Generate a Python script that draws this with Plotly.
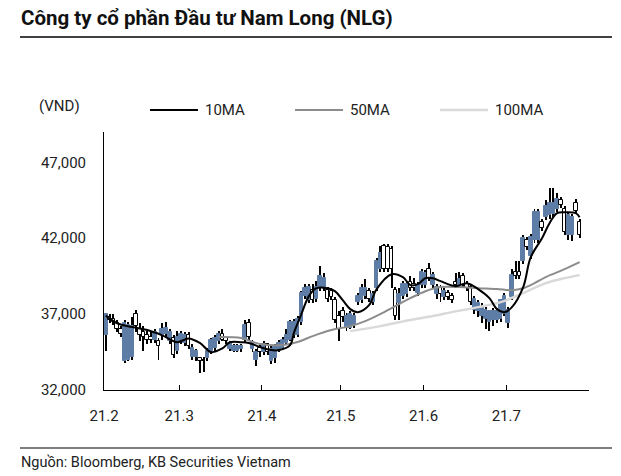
import plotly.graph_objects as go

# ---------------- data ----------------
month_labels = ["21.2", "21.3", "21.4", "21.5", "21.6", "21.7", ""]
month_start_idx = [-0.5, 19.5, 41.5, 62.5, 84.5, 106.5, 128.5]

opens = [35600, 36800, 36700, 36400, 36000, 33900, 34000, 34200, 37000, 36000,
         35800, 35600, 35500, 35300, 35200, 35600, 35700, 35200, 35400, 34600,
         35200, 35100, 35600, 34200, 34200, 34100, 34000, 34100, 34600, 34800,
         35200, 35700, 35400, 34700, 34600, 34600, 34700, 35300, 36400, 34700,
         34000, 34800, 34500, 35000, 33900, 34100, 34600, 34800, 35100, 35300,
         35600, 35600, 36500, 38200, 37900, 38600, 38000, 38700, 38700, 38600,
         38500, 37900, 36900, 37200, 36100, 36100, 36300, 37800, 37900, 38200,
         38500, 37800, 38700, 40000, 41500, 41400, 41300, 38600, 37700, 38200,
         38300, 39100, 39000, 38400, 38900, 38900, 40000, 38900, 38300, 38700,
         38100, 38400, 38200, 39100, 38900, 39500, 39000, 38800, 37300, 37200,
         36900, 36700, 36500, 36600, 36600, 36700, 37000, 36400, 38100, 39800,
         39800, 40500, 41900, 40800, 41900, 41900, 43100, 43400, 43500, 43600,
         43900, 44500, 43900, 42200, 42200, 44300, 43100]
highs = [37100, 37000, 37000, 36600, 36200, 36600, 36500, 36800, 37300, 36400,
         36200, 35900, 35800, 36000, 35400, 36400, 36500, 36000, 35600, 35900,
         35900, 35800, 35800, 35000, 34700, 34200, 34200, 34800, 35400, 35600,
         35900, 36000, 35500, 35200, 35000, 35000, 35000, 36600, 36700, 35300,
         34700, 35000, 35200, 35100, 34900, 35000, 35300, 35500, 36000, 36600,
         36700, 36900, 38500, 39000, 39000, 39000, 39200, 40200, 39700, 38800,
         38700, 38100, 37200, 37500, 37100, 37200, 37100, 38400, 39000, 39300,
         38700, 38500, 40700, 41500, 41600, 41600, 41500, 38800, 38700, 39200,
         39200, 39500, 39400, 39100, 40000, 39900, 40400, 39800, 39000, 38900,
         38700, 38600, 38400, 39700, 39800, 39700, 39200, 39000, 38200, 37900,
         37700, 37500, 37300, 37400, 37400, 38000, 38400, 37500, 40000, 40500,
         40500, 42200, 42100, 42300, 43900, 43900, 43300, 44500, 45300, 45300,
         45000, 44700, 44100, 43700, 43600, 44600, 43300]
lows = [34600, 36400, 36300, 35800, 35500, 33800, 33900, 34000, 35800, 35200,
        34600, 35000, 35100, 35100, 34000, 35300, 35400, 35000, 34100, 34400,
        35000, 34900, 34700, 34000, 33900, 33100, 33200, 33900, 34400, 34600,
        35000, 35200, 35000, 34600, 34500, 34500, 34500, 35100, 35300, 34500,
        33600, 34200, 34300, 34300, 33700, 33800, 34500, 34700, 35000, 35200,
        35400, 35500, 36300, 38000, 37700, 37700, 37800, 38500, 38500, 37800,
        37900, 36400, 35200, 36500, 35900, 36000, 36100, 37600, 37700, 38000,
        37800, 37600, 38500, 39800, 39800, 39800, 38700, 36600, 36600, 38000,
        38100, 38500, 38500, 38200, 38700, 38700, 39200, 38700, 38000, 37800,
        37900, 37900, 37700, 38700, 38700, 38700, 38500, 37600, 37000, 36800,
        36400, 36000, 35900, 36200, 36400, 36500, 36900, 36100, 37900, 39300,
        39300, 40300, 41200, 40600, 41700, 41700, 42500, 43200, 43300, 43400,
        43700, 44000, 42200, 41900, 41800, 43600, 42000]
closes = [37000, 36600, 36500, 36000, 35700, 36400, 36300, 36200, 36200, 35600,
          35500, 35300, 35300, 35800, 34900, 36000, 36100, 35800, 34300, 35500,
          35700, 35600, 34900, 34800, 34600, 33900, 33900, 34600, 35300, 35400,
          35700, 35300, 35200, 35100, 34900, 34900, 34900, 36300, 35500, 35100,
          34500, 34500, 35000, 34500, 34700, 34900, 35100, 35300, 35600, 36500,
          36500, 36700, 38400, 38700, 38800, 37900, 38800, 39500, 39400, 38000,
          38100, 36600, 36000, 36800, 36900, 37000, 36900, 38200, 38700, 38700,
          38000, 38300, 40500, 41000, 40000, 40000, 40000, 36900, 38300, 39000,
          39000, 38700, 38700, 38900, 39800, 39700, 39400, 39600, 38800, 38300,
          38500, 38100, 37900, 38900, 39300, 38900, 38700, 37800, 38000, 37700,
          37500, 37300, 37200, 37200, 37200, 37900, 38200, 37300, 39600, 39500,
          39500, 42000, 41400, 42100, 43700, 43700, 42700, 44100, 44300, 44300,
          44600, 44200, 42400, 43500, 43400, 43800, 42200]

ma10_idx = [0, 3, 7, 11, 15, 19, 22, 25, 28, 31, 33, 36, 38, 41, 44, 46, 49, 50,
            52, 54, 56, 59, 61, 63, 65, 67, 70, 72, 76, 79, 81, 83, 85, 87, 89,
            93, 96, 99, 102, 104, 106, 108, 111, 113, 116, 118, 120, 122, 125, 126]
ma10_val = [36900, 36400, 36150, 35950, 35600, 35150, 35400, 35100, 34500, 34750,
            35150, 35150, 35100, 34830, 34630, 34630, 34960, 35750, 37000, 38185,
            38710, 38710, 38500, 37920, 37330, 37130, 37590, 38650, 39630, 39435,
            38910, 38975, 39370, 39370, 39170, 38840, 39040, 38650, 38055, 37330,
            37130, 37460, 38780, 40750, 42000, 42990, 43650, 43710, 43650, 43380]

ma50_idx = [30, 36, 41, 47, 51, 55, 60, 65, 69, 73, 77, 81, 85, 89, 94, 99, 104,
            108, 111, 114, 117, 122, 126]
ma50_val = [35490, 35420, 35030, 34960, 35160, 35550, 35950, 36210, 36540, 37000,
            37530, 38050, 38510, 38780, 38780, 38710, 38650, 38580, 38710, 39040,
            39440, 39960, 40420]

ma100_idx = [65, 73, 81, 87, 92, 99, 105, 111, 117, 122, 126]
ma100_val = [35880, 36210, 36610, 36870, 37130, 37460, 37790, 38380, 39040, 39370,
             39570]

series_names = ["10MA", "50MA", "100MA"]
title_text = "Công ty cổ phần Đầu tư Nam Long (NLG)"
unit_text = "(VND)"
source_text = "Nguồn: Bloomberg, KB Securities Vietnam"

# ---------------- styling ----------------
BLUE = "#5D7DA6"
MA_COLORS = ["#000000", "#8C8C8C", "#D9D9D9"]
FONT = "Roboto"

x = list(range(len(opens)))
wick_h = [h - l for h, l in zip(highs, lows)]
body_base = [min(o, c) for o, c in zip(opens, closes)]
body_h = [max(abs(c - o), 60) for o, c in zip(opens, closes)]
up = [c >= o for o, c in zip(opens, closes)]
body_fill = [BLUE if u else "#FFFFFF" for u in up]
body_line = [BLUE if u else "#000000" for u in up]

fig = go.Figure()
fig.add_trace(go.Bar(x=x, y=wick_h, base=lows, width=0.26,
                     marker=dict(color="#000000", line=dict(width=0)),
                     showlegend=False, hoverinfo="skip"))
fig.add_trace(go.Bar(x=x, y=body_h, base=body_base, width=0.95,
                     marker=dict(color=body_fill, line=dict(color=body_line, width=1)),
                     showlegend=False))
for name, xi, yi, col, w in [(series_names[2], ma100_idx, ma100_val, MA_COLORS[2], 2.5),
                             (series_names[1], ma50_idx, ma50_val, MA_COLORS[1], 2),
                             (series_names[0], ma10_idx, ma10_val, MA_COLORS[0], 2)]:
    fig.add_trace(go.Scatter(x=xi, y=yi, mode="lines", name=name,
                             line=dict(color=col, width=w, shape="spline", smoothing=1.0),
                             showlegend=False))

# plot area: x 104..589, y 132..390 (px)
L, R, T, B = 104, 589, 132, 390
W, H = R - L, B - T
def px(xp):
    return (xp - L) / W
def py(yp):
    return (B - yp) / H

annotations = [
    dict(text="<b>" + title_text + "</b>", x=px(19), y=py(18), xanchor="left", yanchor="middle",
         font=dict(size=20.5, color="#111111", family=FONT)),
    dict(text=unit_text, x=px(37), y=py(106), xanchor="left", yanchor="middle",
         font=dict(size=15, color="#222222", family=FONT)),
    dict(text=source_text, x=px(19), y=py(462), xanchor="left", yanchor="middle",
         font=dict(size=14.5, color="#222222", family=FONT)),
]
shapes = [
    dict(type="line", xref="paper", yref="paper", x0=px(20), x1=px(612), y0=py(37), y1=py(37),
         line=dict(color="#000000", width=1.5)),
    dict(type="line", xref="paper", yref="paper", x0=px(20), x1=px(612), y0=py(448), y1=py(448),
         line=dict(color="#000000", width=1.2)),
]
leg_x = [150, 295, 440]
for i, name in enumerate(series_names):
    shapes.append(dict(type="line", xref="paper", yref="paper", x0=px(leg_x[i]), x1=px(leg_x[i] + 48),
                       y0=py(110), y1=py(110), line=dict(color=MA_COLORS[i], width=2.5 if i == 2 else 2)))
    annotations.append(dict(text=name, x=px(leg_x[i] + 53), y=py(110), xanchor="left", yanchor="middle",
                            font=dict(size=15, color="#222222", family=FONT)))
for a in annotations:
    a.update(xref="paper", yref="paper", showarrow=False)

fig.update_layout(
    width=621, height=476,
    margin=dict(l=L, r=621 - R, t=T, b=476 - B, pad=0),
    paper_bgcolor="white", plot_bgcolor="white",
    barmode="overlay", bargap=0,
    showlegend=False,
    font=dict(family=FONT, size=14, color="#222222"),
    annotations=annotations, shapes=shapes,
    xaxis=dict(range=[-0.5, 128.5], tickmode="array", tickvals=month_start_idx, ticktext=month_labels,
               ticks="inside", ticklen=5, tickcolor="#000000", tickwidth=1,
               showline=True, linecolor="#000000", linewidth=1, showgrid=False, zeroline=False,
               ticklabelstandoff=12, tickfont=dict(size=15, family=FONT, color="#222222")),
    yaxis=dict(range=[32000, 49000], tickmode="array", tickvals=[32000, 37000, 42000, 47000],
               tickformat=",d", ticks="", showline=True, linecolor="#000000", linewidth=1,
               showgrid=False, zeroline=False, ticklabelstandoff=14,
               tickfont=dict(size=15, family=FONT, color="#222222")),
)
fig.write_html("out.html", config={"displayModeBar": False},
               post_script="document.body.style.margin='0';document.body.style.overflow='hidden';")
